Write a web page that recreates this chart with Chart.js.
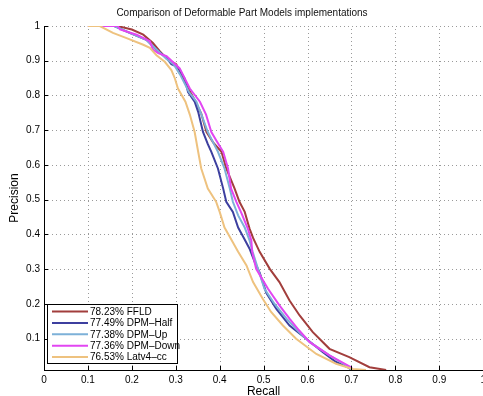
<!DOCTYPE html>
<html>
<head>
<meta charset="utf-8">
<script src="https://cdn.jsdelivr.net/npm/chart.js@4"></script>
<style>
  html, body { margin: 0; padding: 0; background: #fff; overflow: hidden; }
  #wrap { width: 490px; height: 400px; position: relative; }
</style>
</head>
<body>
<div id="wrap"><canvas id="prChart"></canvas></div>
<script>
// --- data (recall, precision) ---
const seriesLabels = ["78.23% FFLD", "77.49% DPM\u2013Half", "77.38% DPM\u2013Up", "77.36% DPM\u2013Down", "76.53% Latv4\u2013cc"];
const seriesColors = ["#a23e3c", "#3d3f9f", "#7db1d8", "#e246f2", "#eec27f"];

const ffldRecall    = [0.1, 0.167, 0.2, 0.226, 0.248, 0.264, 0.28, 0.301, 0.309, 0.324, 0.343, 0.358, 0.37, 0.385, 0.404, 0.415, 0.434, 0.445, 0.457, 0.468, 0.476, 0.491, 0.514, 0.536, 0.559, 0.582, 0.612, 0.65, 0.695, 0.741, 0.779];
const ffldPrecision = [1, 1, 0.99, 0.975, 0.951, 0.927, 0.905, 0.89, 0.87, 0.83, 0.787, 0.748, 0.695, 0.665, 0.638, 0.59, 0.532, 0.494, 0.465, 0.417, 0.39, 0.35, 0.301, 0.263, 0.21, 0.167, 0.119, 0.071, 0.047, 0.018, 0.01];

const halfRecall    = [0.1, 0.16, 0.195, 0.233, 0.256, 0.279, 0.29, 0.305, 0.32, 0.328, 0.343, 0.351, 0.362, 0.373, 0.381, 0.396, 0.408, 0.415, 0.43, 0.442, 0.455, 0.468, 0.48, 0.491, 0.506, 0.529, 0.559, 0.597, 0.635, 0.665, 0.692, 0.7];
const halfPrecision = [1, 1, 0.98, 0.96, 0.932, 0.908, 0.89, 0.882, 0.849, 0.81, 0.782, 0.753, 0.695, 0.66, 0.638, 0.59, 0.532, 0.494, 0.465, 0.42, 0.39, 0.359, 0.32, 0.29, 0.232, 0.186, 0.138, 0.1, 0.061, 0.033, 0.018, 0.01];

const upRecall    = [0.1, 0.16, 0.195, 0.233, 0.258, 0.279, 0.295, 0.31, 0.33, 0.347, 0.36, 0.373, 0.385, 0.396, 0.411, 0.423, 0.43, 0.442, 0.457, 0.468, 0.475, 0.49, 0.502, 0.525, 0.552, 0.58, 0.605, 0.65, 0.688, 0.7];
const upPrecision = [1, 1, 0.98, 0.96, 0.93, 0.905, 0.89, 0.86, 0.81, 0.782, 0.74, 0.695, 0.665, 0.638, 0.59, 0.532, 0.494, 0.455, 0.42, 0.383, 0.35, 0.29, 0.244, 0.2, 0.158, 0.12, 0.09, 0.052, 0.023, 0.01];

const downRecall    = [0.1, 0.168, 0.173, 0.211, 0.241, 0.248, 0.26, 0.279, 0.309, 0.332, 0.355, 0.369, 0.381, 0.394, 0.408, 0.419, 0.426, 0.438, 0.45, 0.464, 0.472, 0.474, 0.483, 0.51, 0.536, 0.559, 0.58, 0.605, 0.65, 0.699, 0.703];
const downPrecision = [1, 1, 0.99, 0.975, 0.956, 0.932, 0.922, 0.913, 0.878, 0.82, 0.782, 0.745, 0.695, 0.667, 0.638, 0.59, 0.532, 0.494, 0.46, 0.417, 0.383, 0.35, 0.301, 0.244, 0.196, 0.158, 0.125, 0.09, 0.052, 0.018, 0.01];

const latvRecall    = [0.1, 0.127, 0.157, 0.188, 0.226, 0.241, 0.256, 0.275, 0.29, 0.298, 0.305, 0.322, 0.332, 0.343, 0.351, 0.358, 0.373, 0.392, 0.4, 0.411, 0.42, 0.442, 0.461, 0.476, 0.498, 0.517, 0.544, 0.574, 0.62, 0.665, 0.703, 0.733];
const latvPrecision = [1, 1, 0.98, 0.965, 0.946, 0.937, 0.916, 0.897, 0.873, 0.849, 0.82, 0.782, 0.745, 0.695, 0.638, 0.59, 0.532, 0.494, 0.465, 0.42, 0.4, 0.35, 0.311, 0.263, 0.215, 0.177, 0.138, 0.1, 0.056, 0.028, 0.013, 0.01];

const xTicks = [0, 0.1, 0.2, 0.3, 0.4, 0.5, 0.6, 0.7, 0.8, 0.9, 1];
const yTicks = [0.1, 0.2, 0.3, 0.4, 0.5, 0.6, 0.7, 0.8, 0.9, 1];

const recallSets = [ffldRecall, halfRecall, upRecall, downRecall, latvRecall];
const precisionSets = [ffldPrecision, halfPrecision, upPrecision, downPrecision, latvPrecision];

const FONT = "'Liberation Sans', Arial, sans-serif";

function toPoints(xs, ys) {
  return xs.map((x, i) => ({ x: x, y: ys[i] }));
}

const datasets = seriesLabels.map((label, i) => ({
  label: label,
  data: toPoints(recallSets[i], precisionSets[i]),
  borderColor: seriesColors[i],
  borderWidth: 2,
  pointRadius: 0,
  fill: false,
  tension: 0,
  order: seriesLabels.length - i // later series drawn on top, like matlab
}));

// dotted grid (matlab style), drawn under the curves
const dottedGrid = {
  id: "dottedGrid",
  beforeDatasetsDraw(chart) {
    const ctx = chart.ctx;
    const area = chart.chartArea;
    const xs = chart.scales.x, ys = chart.scales.y;
    ctx.save();
    ctx.strokeStyle = "#9a9a9a";
    ctx.lineWidth = 1;
    ctx.setLineDash([1, 3]);
    ctx.beginPath();
    xTicks.forEach(v => {
      if (v === 0) return;
      const px = Math.round(xs.getPixelForValue(v)) + 0.5;
      ctx.moveTo(px, area.bottom);
      ctx.lineTo(px, area.top);
    });
    yTicks.forEach(v => {
      const py = Math.round(ys.getPixelForValue(v)) + 0.5;
      ctx.moveTo(area.left, py);
      ctx.lineTo(area.right, py);
    });
    ctx.stroke();
    ctx.restore();
  }
};

// inward tick marks + boxed legend in the lower left corner
const matlabBits = {
  id: "matlabBits",
  afterDatasetsDraw(chart) {
    const ctx = chart.ctx;
    const area = chart.chartArea;
    const xs = chart.scales.x, ys = chart.scales.y;
    ctx.save();
    ctx.strokeStyle = "#000";
    ctx.lineWidth = 1;
    ctx.beginPath();
    xTicks.forEach(v => {
      const px = Math.round(xs.getPixelForValue(v)) + 0.5;
      ctx.moveTo(px, area.bottom);
      ctx.lineTo(px, area.bottom - 4);
    });
    yTicks.forEach(v => {
      const py = Math.round(ys.getPixelForValue(v)) + 0.5;
      ctx.moveTo(area.left, py);
      ctx.lineTo(area.left + 4, py);
    });
    ctx.stroke();

    // legend box
    const bx = 47.5, by = 304.5, bw = 130, bh = 59;
    ctx.fillStyle = "#fff";
    ctx.fillRect(bx, by, bw, bh);
    ctx.strokeRect(bx, by, bw, bh);
    ctx.font = "10px " + FONT;
    ctx.textBaseline = "middle";
    seriesLabels.forEach((label, i) => {
      const y = 311.5 + i * 11.4;
      ctx.strokeStyle = seriesColors[i];
      ctx.lineWidth = 2;
      ctx.beginPath();
      ctx.moveTo(52, y);
      ctx.lineTo(88, y);
      ctx.stroke();
      ctx.fillStyle = "#000";
      ctx.fillText(label, 90, y + 0.5);
    });
    ctx.restore();
  }
};

new Chart(document.getElementById("prChart"), {
  type: "line",
  data: { datasets: datasets },
  plugins: [dottedGrid, matlabBits],
  options: {
    responsive: true,
    maintainAspectRatio: false,
    animation: false,
    layout: { padding: { top: 0, right: 6, bottom: 0, left: 0 } },
    plugins: {
      legend: { display: false },
      tooltip: { enabled: false },
      title: {
        display: true,
        text: "Comparison of Deformable Part Models implementations",
        color: "#111",
        font: { family: FONT, size: 10, weight: "normal" },
        padding: { top: 7, bottom: 7 }
      }
    },
    scales: {
      x: {
        type: "linear",
        min: 0, max: 1,
        afterBuildTicks: s => { s.ticks = xTicks.map(v => ({ value: v })); },
        afterFit: s => { s.height = 30; },
        ticks: {
          color: "#000",
          font: { family: FONT, size: 10 },
          padding: 4,
          maxRotation: 0,
          callback: v => String(v)
        },
        grid: { drawOnChartArea: false, drawTicks: false },
        border: { display: true, color: "#000", width: 1 },
        title: {
          display: true, text: "Recall", color: "#000",
          font: { family: FONT, size: 12 },
          padding: { top: 0, bottom: 1 }
        }
      },
      y: {
        type: "linear",
        min: 0.01, max: 1,
        afterBuildTicks: s => { s.ticks = yTicks.map(v => ({ value: v })); },
        afterFit: s => { s.width = 44; },
        ticks: {
          color: "#000",
          font: { family: FONT, size: 10 },
          padding: 4,
          callback: v => String(v)
        },
        grid: { drawOnChartArea: false, drawTicks: false },
        border: { display: true, color: "#000", width: 1 },
        title: {
          display: true, text: "Precision", color: "#000",
          font: { family: FONT, size: 12 },
          padding: { top: 7, bottom: 0 }
        }
      }
    }
  }
});
</script>
</body>
</html>
